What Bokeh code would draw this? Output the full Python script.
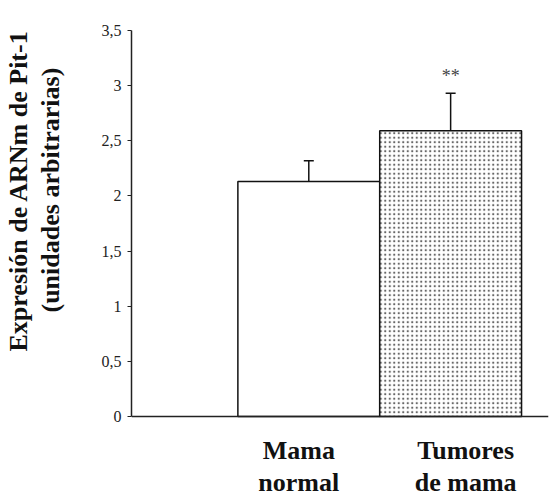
import math
from bokeh.plotting import figure
from bokeh.models import Range1d, FixedTicker, Label, Whisker, TeeHead, ColumnDataSource, Title, Span
from bokeh.embed import file_html
from bokeh.resources import INLINE

# ---- data ----
categories = ["Mama\nnormal", "Tumores\nde mama"]
positions = [1, 2]
means = [2.13, 2.59]
errors = [0.19, 0.34]
significance = ["", "**"]
ytick_values = [0, 0.5, 1, 1.5, 2, 2.5, 3, 3.5]
ytick_labels = ["0", "0,5", "1", "1,5", "2", "2,5", "3", "3,5"]
ylabel_lines = ["Expresión de ARNm  de Pit-1", "(unidades arbitrarias)"]

SERIF = "Liberation Serif"

# frame runs to the canvas bottom so the category labels (drawn below 0) are not clipped
p = figure(width=558, height=498, output_backend="svg", toolbar_location=None,
           x_range=Range1d(-0.25, 2.69), y_range=Range1d(-0.7435, 3.5),
           x_axis_location=None,
           min_border_left=131, min_border_right=10, min_border_top=30, min_border_bottom=0)
p.outline_line_color = None
p.grid.visible = False
p.background_fill_color = "white"
p.border_fill_color = "white"

# x baseline
p.add_layout(Span(location=0, dimension="width", line_color="#222222", line_width=1.5))

# bars
p.vbar(x=[positions[0]], top=[means[0]], width=1, fill_color="white",
       line_color="#111111", line_width=1.5)
p.vbar(x=[positions[1]], top=[means[1]], width=1, fill_color="white",
       line_color="#111111", line_width=1.5,
       hatch_pattern="dot", hatch_color="#666666", hatch_scale=4.5, hatch_weight=1.1)

# error bars (upper only)
src = ColumnDataSource(dict(x=positions, lower=means,
                            upper=[m + e for m, e in zip(means, errors)]))
p.add_layout(Whisker(source=src, base="x", lower="lower", upper="upper",
                     line_color="#111111", line_width=1.5,
                     upper_head=TeeHead(size=10, line_color="#111111", line_width=1.5),
                     lower_head=None))

# significance marks
for x, m, e, s in zip(positions, means, errors, significance):
    if s:
        p.add_layout(Label(x=x, y=m + e, text=s, y_offset=7, text_align="center",
                           text_baseline="bottom", text_font=SERIF,
                           text_font_size="18px", text_color="#444444"))

# category labels (slightly offset from bar centres, as in the original)
label_xoff = [-10, 15]
for x, c, off in zip(positions, categories, label_xoff):
    p.add_layout(Label(x=x, y=0, text=c, x_offset=off, y_offset=-19,
                       text_align="center", text_baseline="top",
                       text_font=SERIF, text_font_style="bold",
                       text_font_size="26px", text_line_height=1.12,
                       text_color="#111111"))

# y axis
ya = p.yaxis[0]
ya.bounds = (0, 3.5)
ya.ticker = FixedTicker(ticks=ytick_values)
ya.major_label_overrides = {v: l for v, l in zip(ytick_values, ytick_labels)}
ya.major_label_text_font = SERIF
ya.major_label_text_font_size = "16px"
ya.major_label_text_color = "#222222"
ya.major_tick_in = 0
ya.major_tick_out = 4
ya.minor_tick_line_color = None
ya.axis_line_width = 1.5
ya.axis_line_color = "#222222"
ya.major_tick_line_color = "#222222"
ya.major_label_standoff = 6
ya.axis_label = " "
ya.axis_label_text_font_size = "1px"
ya.axis_label_standoff = 28

# y axis title (two lines stacked in the left panel)
offsets = [147, 186]
standoffs = [0, 3]
for i in (1, 0):
    p.add_layout(Title(text=ylabel_lines[i], align="left", offset=offsets[i],
                       standoff=standoffs[i], text_font=SERIF, text_font_style="bold",
                       text_font_size="26px", text_color="#111111"), "left")

open("out.html", "w").write(file_html(p, INLINE))
